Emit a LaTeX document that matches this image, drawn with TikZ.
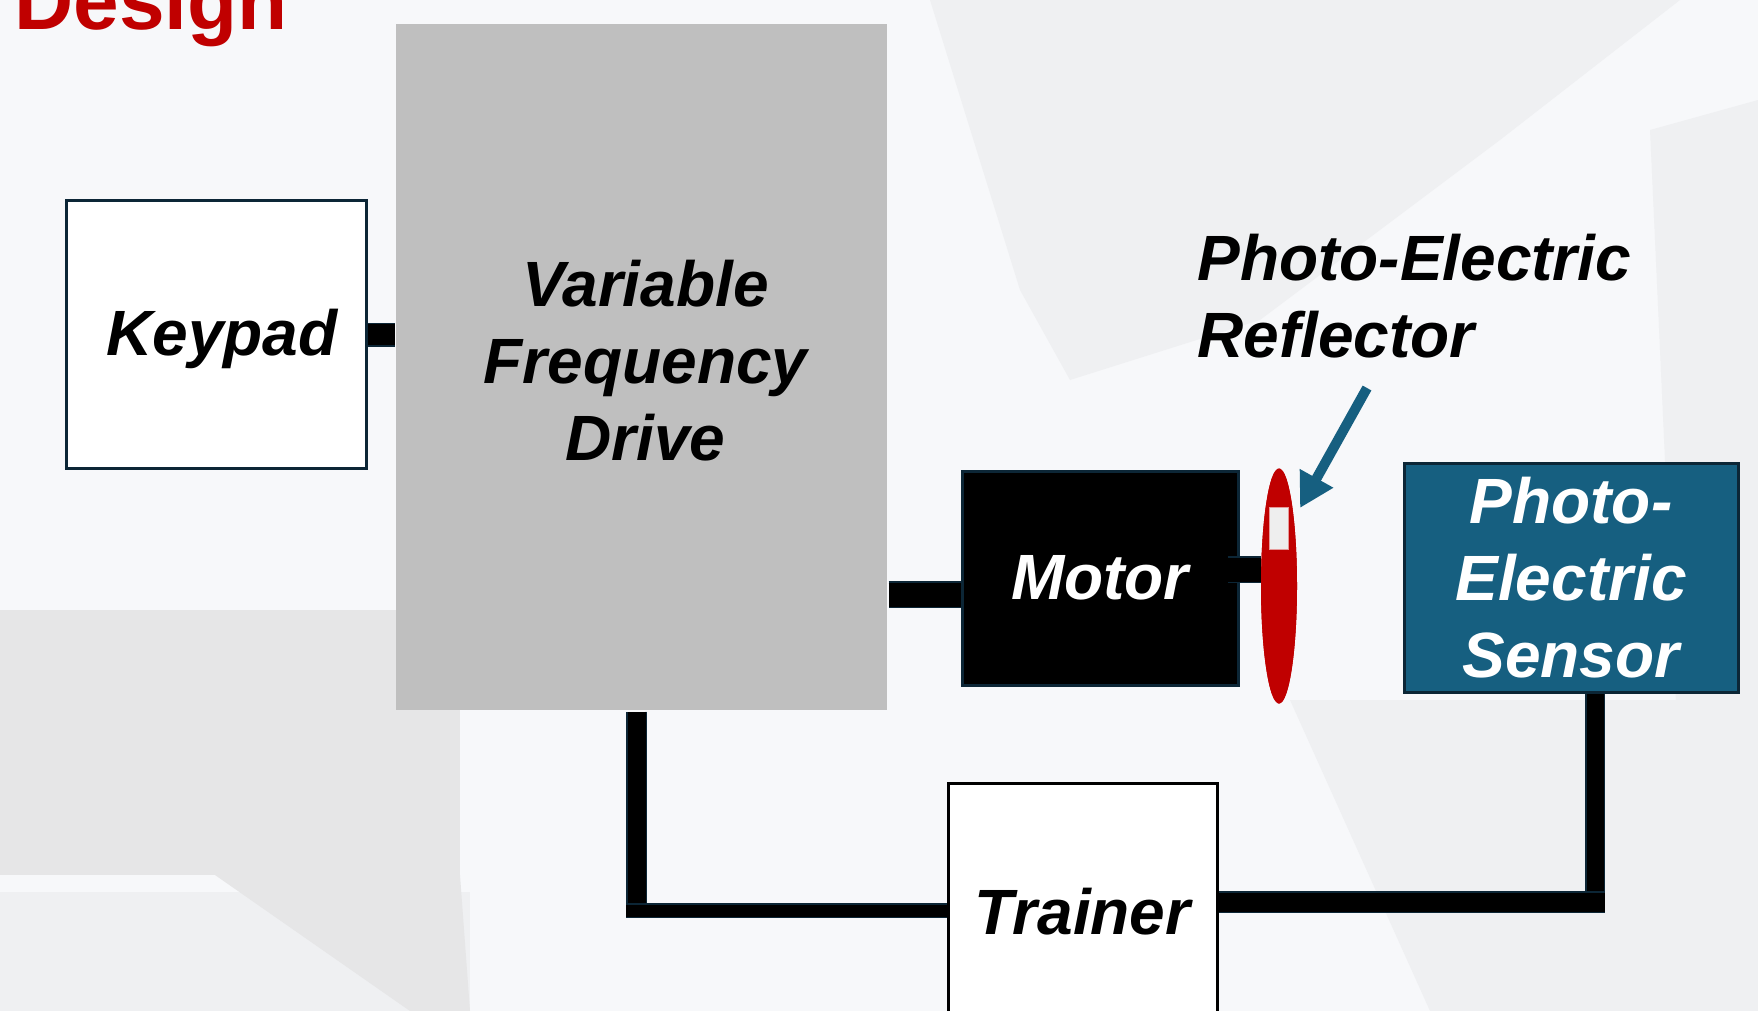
\documentclass[tikz,border=0pt]{standalone}
\usepackage{fontspec}
\setmainfont{Liberation Sans}
\usetikzlibrary{arrows.meta,positioning,shapes.geometric}
\definecolor{bgwhite}{HTML}{F7F8FA}
\definecolor{bgshade}{HTML}{E6E6E7}
\definecolor{bglight}{HTML}{EFF0F2}
\definecolor{vfdgray}{HTML}{BFBFBF}
\definecolor{edge}{HTML}{0C2636}
\definecolor{sensorblue}{HTML}{165F80}
\definecolor{reflred}{HTML}{C00000}
\definecolor{markgray}{HTML}{EEEEEE}
\newcommand{\lbl}{\fontsize{32}{38.5}\selectfont\bfseries\itshape}
\tikzset{
  blk/.style={rectangle,inner sep=0pt,align=center,font=\lbl,line width=1.5pt},
  bar/.style={draw=edge,line width=0.75pt,double=black,double distance=#1},
  ptr/.style={draw=sensorblue,line width=5pt,-{Triangle[width=18pt,length=17pt]}}
}

\begin{document}
\begin{tikzpicture}[x=0.5pt,y=-0.5pt]
   \useasboundingbox (0,0) rectangle (1758,1011);
   \clip (0,0) rectangle (1758,1011);
   % backdrop
   \fill[bgwhite] (0,0) rectangle (1758,1011);
   \fill[bglight] (930,0) -- (1680,0) -- (1500,140) -- (1260,320) -- (1070,380) -- (1020,290) -- cycle;
   \fill[bglight] (1650,130) -- (1758,100) -- (1758,1011) -- (1690,1011) -- cycle;
   \fill[bglight] (1290,700) -- (1758,700) -- (1758,1011) -- (1430,1011) -- cycle;
   \fill[bgshade] (0,610) rectangle (460,875);
   \fill[bglight] (0,892) rectangle (470,1011);
   \fill[bgshade] (215,875) -- (460,875) -- (470,1011) -- (410,1011) -- cycle;

   % title
   \node[anchor=base west,text=reflred,font=\fontsize{41}{49}\selectfont\bfseries,inner sep=0pt] (title) at (14,30) {Design};

   % blocks
   \node[blk,draw=edge,fill=white,minimum width=150pt,minimum height=133.5pt] (keypad) at (216,334.5) {};
   \node[font=\lbl,inner sep=0pt] (keytxt) at ([xshift=3pt,yshift=-2pt]keypad.center) {Keypad};
   \node[blk,fill=vfdgray,minimum width=245.5pt,minimum height=343pt] (vfd) at (641.5,367) {};
   \node[font=\lbl,align=center,inner sep=0pt] (vfdtxt) at ([xshift=2pt,yshift=3pt]vfd.center) {Variable\\Frequency\\Drive};
   \node[blk,draw=edge,fill=black,text=white,minimum width=138pt,minimum height=107pt] (motor) at (1100,578) {Motor};
   \node[blk,draw=edge,fill=sensorblue,text=white,minimum width=167pt,minimum height=114.5pt] (sensor) at (1571,577.5) {Photo-\\Electric\\Sensor};
   \node[blk,draw=black,fill=white,minimum width=134.5pt,minimum height=128.5pt] (trainer) at (1082.5,911.5) {Trainer};

   % links
   \draw[bar=10.5pt] (keypad.east) -- (keypad.east -| vfd.west);
   \coordinate (m1) at ([yshift=-8.25pt]motor.west);
   \coordinate (m2) at ([xshift=-6pt,yshift=4.25pt]motor.east);
   \draw[bar=12pt] (m1 -| vfd.east) -- (m1);
   \coordinate (c1) at (636.5,910.5);
   \draw[bar=9pt] (vfd.south -| c1) -- ([yshift=-3.75pt]c1);
   \draw[bar=6pt] ([xshift=-5.25pt]c1) -- (c1 -| trainer.west);
   \coordinate (c2) at (1595,902);
   \draw[bar=8.5pt] (sensor.south -| c2) -- ([yshift=-5.5pt]c2);
   \draw[bar=9.5pt] (c2 -| trainer.east) -- ([xshift=5pt]c2);

   % reflector disc on the shaft
   \node[ellipse,fill=reflred,inner sep=0pt,minimum width=18pt,minimum height=117.5pt] (refl) at (1279,586) {};
   \draw[bar=12pt] (m2) -- (m2 -| refl.west);
   \node[ellipse,fill=reflred,inner sep=0pt,minimum width=18pt,minimum height=117.5pt] at (refl) {};
   \node[rectangle,fill=markgray,draw=reflred!40,line width=0.4pt,inner sep=0pt,minimum width=9.5pt,minimum height=21pt] (mark) at (1278.5,528) {};

   \node[anchor=west,align=left,font=\lbl,inner sep=0pt] (refllbl) at (1197,296) {Photo-Electric\\Reflector};
   \coordinate (tail) at (1367,388);
   \coordinate (tip) at ([xshift=10.5pt,yshift=39pt]refl.center);
   \draw[ptr] (tail) -- (tip);
\end{tikzpicture}
\end{document}
